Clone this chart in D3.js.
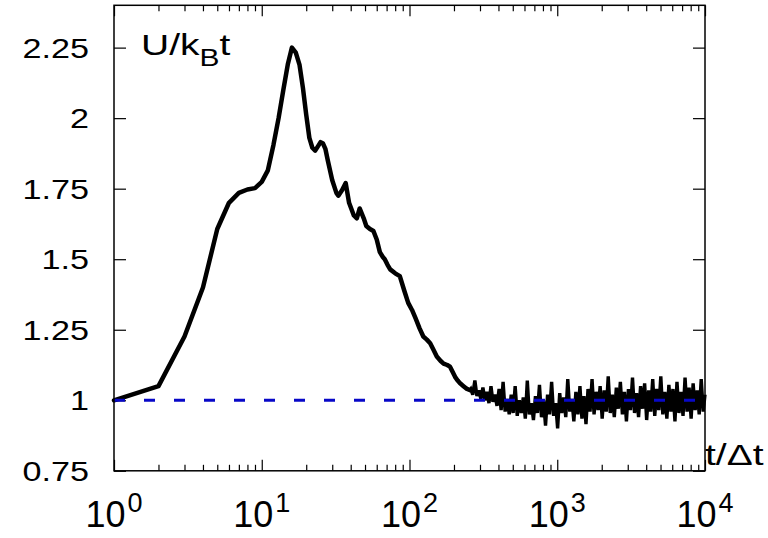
<!DOCTYPE html>
<html>
<head>
<meta charset="utf-8">
<script src="https://cdn.jsdelivr.net/npm/d3@7"></script>
<style>
  html, body { margin: 0; padding: 0; background: #fff; }
  svg { display: block; font-family: "Liberation Sans", Arial, sans-serif; }
</style>
</head>
<body>
<svg></svg>
<script>
// Dimension constants
const WIDTH = 768;
const HEIGHT = 538;
const LEFT = 114, RIGHT = 705, TOP = 5.3, BOTTOM = 470.8;

// tick values / labels
const xMajor = [1, 10, 100, 1000, 10000];
const xExp = ['0', '1', '2', '3', '4'];
const yTicks = [0.75, 1, 1.25, 1.5, 1.75, 2, 2.25];
const yLabels = ['0.75', '1', '1.25', '1.5', '1.75', '2', '2.25'];

// reference level
const refLevel = 1;

// early (smooth) part of U/kBt
const tSmooth = [
    1, 2, 3, 4, 5, 6, 7, 8, 9, 10,
    11, 12, 13, 14, 15, 16, 17, 18, 19, 20,
    21, 22, 23, 24, 25, 26, 27, 28, 30, 32,
    33, 35, 37, 39, 42, 44, 46, 49, 51, 54,
    57, 60, 63, 66, 68, 71, 74, 80, 86, 92,
    98, 104, 110, 117, 124, 131, 138, 145, 153, 162,
    170, 180, 188, 196, 205, 212, 220, 232, 245, 257
];
const uSmooth = [
    1.0, 1.05, 1.226, 1.40, 1.607, 1.70, 1.735, 1.747, 1.752, 1.774,
    1.815, 1.905, 2.0, 2.10, 2.19, 2.25, 2.232, 2.19, 2.107, 2.012,
    1.93, 1.895, 1.885, 1.90, 1.915, 1.91, 1.89, 1.85, 1.78, 1.735,
    1.725, 1.745, 1.77, 1.70, 1.655, 1.645, 1.68, 1.645, 1.618, 1.607,
    1.60, 1.57, 1.525, 1.508, 1.50, 1.48, 1.464, 1.45, 1.44, 1.39,
    1.345, 1.32, 1.29, 1.255, 1.226, 1.215, 1.202, 1.18, 1.155, 1.14,
    1.13, 1.125, 1.119, 1.10, 1.08, 1.07, 1.06, 1.05, 1.04, 1.036
];

// late (fluctuating) part
const tNoise = [
    260, 268, 277, 286, 295, 304, 314, 324, 334, 345,
    356, 367, 379, 391, 404, 417, 430, 444, 458, 473,
    488, 503, 519, 536, 553, 571, 589, 608, 627, 647,
    668, 690, 712, 734, 758, 782, 807, 833, 860, 887,
    916, 945, 975, 1006, 1039, 1072, 1106, 1142, 1178, 1216,
    1255, 1295, 1337, 1380, 1424, 1469, 1516, 1565, 1615, 1667,
    1720, 1775, 1832, 1891, 1951, 2014, 2078, 2145, 2213, 2284,
    2357, 2433, 2511, 2591, 2674, 2760, 2848, 2939, 3033, 3130,
    3231, 3334, 3441, 3551, 3665, 3782, 3903, 4028, 4157, 4290,
    4427, 4569, 4715, 4866, 5022, 5182, 5348, 5519, 5696, 5878,
    6066, 6260, 6461, 6667, 6881, 7101, 7328, 7563, 7805, 8055,
    8312, 8578, 8853, 9136, 9429, 9730, 10000
];
const uNoise = [
    1.04, 1.02, 1.07, 1.015, 1.035, 1.005, 1.045, 1.0, 1.03, 0.99,
    1.05, 0.995, 1.02, 0.98, 1.04, 0.965, 1.065, 0.96, 1.005, 0.95,
    1.02, 0.955, 1.05, 0.945, 1.0, 0.955, 1.01, 0.935, 1.07, 0.95,
    0.99, 0.93, 1.015, 0.955, 1.055, 0.94, 1.0, 0.91, 1.02, 0.95,
    1.065, 0.945, 0.99, 0.9, 1.025, 0.955, 1.01, 0.94, 1.075, 0.96,
    1.005, 0.925, 1.03, 0.95, 1.05, 0.935, 1.015, 0.915, 1.04, 0.96,
    1.075, 0.95, 1.03, 0.965, 1.05, 0.935, 1.035, 0.96, 1.085, 0.955,
    1.02, 0.94, 1.045, 0.97, 1.065, 0.95, 1.03, 0.925, 1.04, 0.965,
    1.08, 0.955, 1.025, 0.94, 1.05, 0.97, 1.06, 0.93, 1.035, 0.96,
    1.075, 0.945, 1.04, 0.965, 1.085, 0.95, 1.03, 0.935, 1.055, 0.96,
    1.04, 0.925, 1.065, 0.955, 1.03, 0.945, 1.08, 0.96, 1.045, 0.935,
    1.06, 0.965, 1.035, 0.95, 1.075, 0.96, 1.02
];

const svg = d3.select('svg')
    .attr('width', WIDTH)
    .attr('height', HEIGHT);

const x = d3.scaleLog().domain([1, 10000]).range([LEFT, RIGHT]);
const y = d3.scaleLinear().domain([0.75, 2.4]).range([BOTTOM, TOP]);

const xMinor = x.ticks().filter(d => !xMajor.includes(d));

// ticks on all four sides, pointing inwards
function ticks(axis, translate) {
    const g = svg.append('g')
        .attr('transform', translate)
        .call(axis);
    g.select('.domain').remove();
    g.selectAll('line').attr('stroke', '#000').attr('stroke-width', 1.2);
    g.selectAll('text').remove();
}
ticks(d3.axisBottom(x).tickValues(xMajor).tickSize(-11), `translate(0,${BOTTOM})`);
ticks(d3.axisBottom(x).tickValues(xMinor).tickSize(-6), `translate(0,${BOTTOM})`);
ticks(d3.axisTop(x).tickValues(xMajor).tickSize(-11), `translate(0,${TOP})`);
ticks(d3.axisTop(x).tickValues(xMinor).tickSize(-6), `translate(0,${TOP})`);
ticks(d3.axisLeft(y).tickValues(yTicks).tickSize(-12), `translate(${LEFT},0)`);
ticks(d3.axisRight(y).tickValues(yTicks).tickSize(-12), `translate(${RIGHT},0)`);

// curve
const line = d3.line()
    .x(d => x(d[0]))
    .y(d => y(d[1]));

const smooth = tSmooth.map((t, i) => [t, uSmooth[i]]);
const noise = [smooth[smooth.length - 1], ...tNoise.map((t, i) => [t, uNoise[i]])];

svg.append('path')
    .datum(noise)
    .attr('d', line)
    .attr('fill', 'none')
    .attr('stroke', '#000')
    .attr('stroke-width', 3.4)
    .attr('stroke-linejoin', 'miter')
    .attr('stroke-miterlimit', 3);

svg.append('path')
    .datum(smooth)
    .attr('d', line)
    .attr('fill', 'none')
    .attr('stroke', '#000')
    .attr('stroke-width', 4.5)
    .attr('stroke-linejoin', 'round')
    .attr('stroke-linecap', 'round');

// dashed reference line
svg.append('line')
    .attr('x1', x(1))
    .attr('x2', x(10000))
    .attr('y1', y(refLevel))
    .attr('y2', y(refLevel))
    .attr('stroke', '#0808c8')
    .attr('stroke-width', 3)
    .attr('stroke-dasharray', '11,19');

// frame
svg.append('rect')
    .attr('x', LEFT)
    .attr('y', TOP)
    .attr('width', RIGHT - LEFT)
    .attr('height', BOTTOM - TOP)
    .attr('fill', 'none')
    .attr('stroke', '#000')
    .attr('stroke-width', 1.5);

// y tick labels
svg.selectAll('.ylab')
    .data(yTicks).enter().append('text')
    .attr('class', 'ylab')
    .attr('text-anchor', 'end')
    .attr('font-size', 28)
    .attr('transform', d => `translate(89,${y(d) + 10}) scale(1.22,1)`)
    .text((d, i) => yLabels[i]);

// x tick labels: 10^n
const xlab = svg.selectAll('.xlab')
    .data(xMajor).enter().append('text')
    .attr('class', 'xlab')
    .attr('text-anchor', 'middle')
    .attr('x', d => x(d))
    .attr('y', 527)
    .attr('font-size', 36);
xlab.append('tspan').text('10');
xlab.append('tspan')
    .attr('font-size', 27)
    .attr('dx', 2)
    .attr('dy', -15)
    .text((d, i) => xExp[i]);

// axis titles
const ylab = svg.append('text')
    .attr('font-size', 30)
    .attr('transform', 'translate(141,55) scale(1.3,1)');
ylab.append('tspan').text('U/k');
ylab.append('tspan').attr('font-size', 23).attr('dy', 11).text('B');
ylab.append('tspan').attr('dy', -11).text('t');

svg.append('text')
    .attr('font-size', 30)
    .attr('transform', 'translate(705,465) scale(1.3,1)')
    .text('t/\u0394t');
</script>
</body>
</html>
